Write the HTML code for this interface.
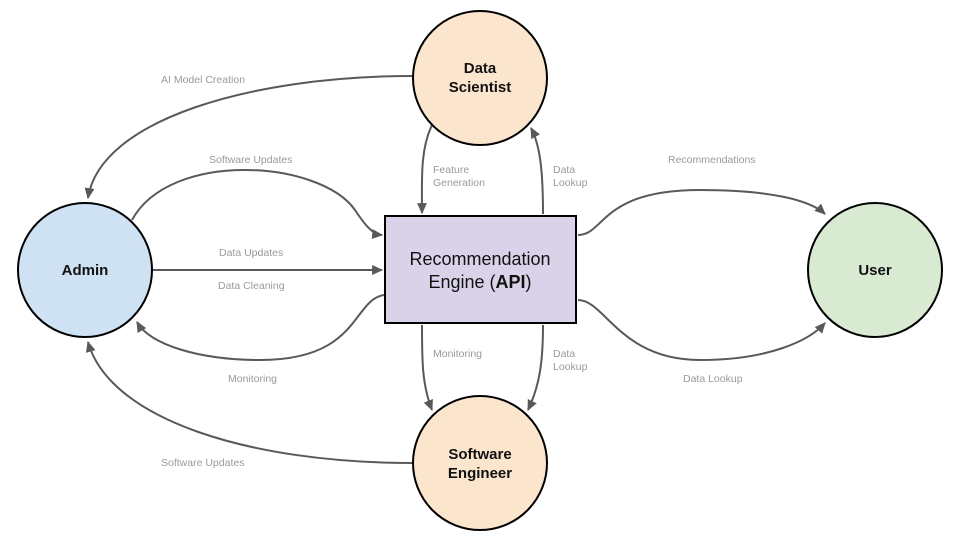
<!DOCTYPE html>
<html><head><meta charset="utf-8"><style>
html,body{margin:0;padding:0;background:#fff;}
svg{display:block;font-family:"Liberation Sans",sans-serif;}
.l{fill:#9a9a9a;font-size:10.5px;}
.e{fill:none;stroke:#595959;stroke-width:2;marker-end:url(#a);}
.n{font-size:15px;font-weight:bold;fill:#111;text-anchor:middle;}
</style></head><body>
<svg width="960" height="540" viewBox="0 0 960 540">
<defs><marker id="a" viewBox="0 0 10 10" refX="9" refY="5" markerWidth="11" markerHeight="11" orient="auto" markerUnits="userSpaceOnUse"><path d="M0,0.5 L10,5 L0,9.5 z" fill="#595959"/></marker></defs>
<path class="e" d="M413,76 C250,76 100,120 88,198"/>
<path class="e" d="M132,220 C170,150 320,160 355,210 C365,225 372,234 382,235"/>
<path class="e" d="M152,270 L382,270"/>
<path class="e" d="M384,295 C352,300 360,360 260,360 C200,360 150,345 137,322"/>
<path class="e" d="M413,463 C250,463 110,420 88,342"/>
<path class="e" d="M432,125 C420,150 422,180 422,213"/>
<path class="e" d="M543,214 C543,170 540,145 531,128"/>
<path class="e" d="M422,325 C422,360 422,385 432,410"/>
<path class="e" d="M543,325 C543,360 540,385 528,410"/>
<path class="e" d="M578,235 C605,235 600,190 700,190 C770,190 810,200 825,214"/>
<path class="e" d="M578,300 C605,300 620,360 700,360 C770,360 810,340 825,323"/>
<circle cx="480" cy="78" r="67" fill="#fce5cd" stroke="#000" stroke-width="2"/>
<circle cx="480" cy="463" r="67" fill="#fce5cd" stroke="#000" stroke-width="2"/>
<circle cx="85" cy="270" r="67" fill="#cfe2f3" stroke="#000" stroke-width="2"/>
<circle cx="875" cy="270" r="67" fill="#d9ead3" stroke="#000" stroke-width="2"/>
<rect x="385" y="216" width="191" height="107" fill="#d9d2e9" stroke="#000" stroke-width="2"/>
<text class="n" x="480" y="73">Data</text><text class="n" x="480" y="92">Scientist</text>
<text class="n" x="480" y="459">Software</text><text class="n" x="480" y="478">Engineer</text>
<text class="n" x="85" y="275">Admin</text>
<text class="n" x="875" y="275">User</text>
<text x="480" y="265" text-anchor="middle" font-size="18" fill="#111">Recommendation</text>
<text x="480" y="288" text-anchor="middle" font-size="18" fill="#111">Engine (<tspan font-weight="bold">API</tspan>)</text>
<text class="l" x="161" y="83">AI Model Creation</text>
<text class="l" x="209" y="163">Software Updates</text>
<text class="l" x="219" y="256">Data Updates</text>
<text class="l" x="218" y="289">Data Cleaning</text>
<text class="l" x="228" y="382">Monitoring</text>
<text class="l" x="161" y="466">Software Updates</text>
<text class="l" x="433" y="173">Feature</text><text class="l" x="433" y="186">Generation</text>
<text class="l" x="553" y="173">Data</text><text class="l" x="553" y="186">Lookup</text>
<text class="l" x="433" y="357">Monitoring</text>
<text class="l" x="553" y="357">Data</text><text class="l" x="553" y="370">Lookup</text>
<text class="l" x="668" y="163">Recommendations</text>
<text class="l" x="683" y="382">Data Lookup</text>
</svg>
</body></html>
